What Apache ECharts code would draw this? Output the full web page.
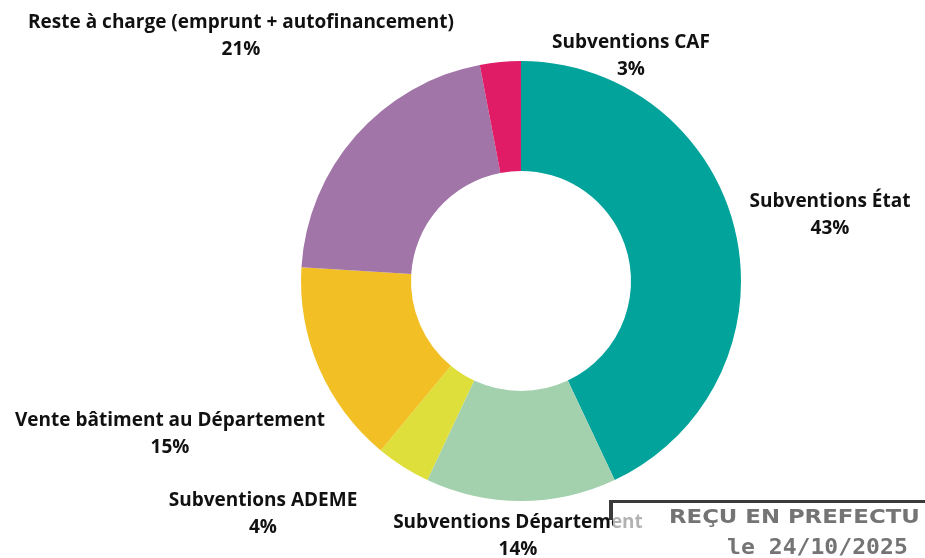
<!DOCTYPE html>
<html>
<head>
<meta charset="utf-8">
<script src="https://cdn.jsdelivr.net/npm/echarts@6/dist/echarts.min.js"></script>
<style>
html,body{margin:0;padding:0;background:#fff;}
#c{width:925px;height:558px;}
</style>
</head>
<body>
<div id="c"></div>
<script>
const categories = [
  'Subventions État',
  'Subventions Département',
  'Subventions ADEME',
  'Vente bâtiment au Département',
  'Reste à charge (emprunt + autofinancement)',
  'Subventions CAF'
];
const shares = [43, 14, 4, 15, 21, 3];
const colors = ['#01A39B', '#A3D1AD', '#DEDF3A', '#F2BF25', '#A275A9', '#E01C67'];
// label block centres (layout only)
const labelCenters = [
  [830, 215],
  [518, 536],
  [263, 514],
  [170, 434],
  [241, 36],
  [631, 56]
];

const chart = echarts.init(document.getElementById('c'), null, {renderer: 'canvas'});
chart.setOption({
  animation: false,
  backgroundColor: '#ffffff',
  series: [{
    type: 'pie',
    center: [521, 281],
    radius: [110, 220],
    startAngle: 90,
    clockwise: true,
    avoidLabelOverlap: false,
    itemStyle: {borderWidth: 0},
    emphasis: {disabled: true},
    label: {
      show: true,
      position: 'outside',
      formatter: p => p.name + '\n' + p.value + '%',
      fontFamily: 'Open Sans',
      fontWeight: 700,
      fontSize: 19,
      lineHeight: 27,
      color: '#111111',
      align: 'center'
    },
    labelLine: {show: false},
    labelLayout: function (params) {
      const c = labelCenters[params.dataIndex];
      return {x: c[0], y: c[1], align: 'center', verticalAlign: 'middle'};
    },
    data: categories.map((n, i) => ({name: n, value: shares[i], itemStyle: {color: colors[i]}}))
  }],
  graphic: [
    {type: 'rect', z: 100, shape: {x: 613, y: 503, width: 312, height: 55}, style: {fill: 'rgba(255,255,255,0.68)'}},
    {type: 'rect', z: 101, shape: {x: 609, y: 500, width: 316, height: 3}, style: {fill: '#3a3a3a'}},
    {type: 'rect', z: 101, shape: {x: 609, y: 500, width: 4, height: 20}, style: {fill: '#3a3a3a'}},
    {type: 'text', z: 102, x: 669, y: 509, scaleX: 1.2, style: {text: 'REÇU EN PREFECTU', fill: '#747474', font: 'bold 19px "DejaVu Sans"'}},
    {type: 'text', z: 102, x: 727, y: 537, scaleX: 1.05, style: {text: 'le 24/10/2025', fill: '#747474', font: 'bold 22px "DejaVu Sans Mono"'}}
  ]
});
</script>
</body>
</html>
